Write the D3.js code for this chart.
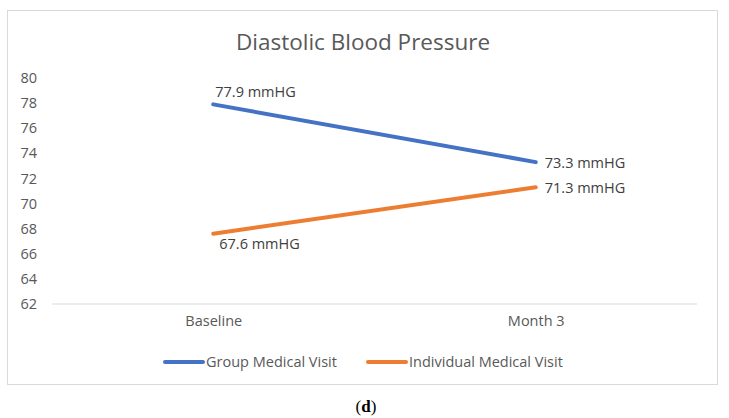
<!DOCTYPE html>
<html><head><meta charset="utf-8">
<script src="https://cdn.jsdelivr.net/npm/d3@7"></script>
<style>body{margin:0;background:#fff;}svg{display:block;}</style>
</head><body>
<svg id="c" width="729" height="418"></svg>
<script>
const categories = ["Baseline", "Month 3"];
const seriesNames = ["Group Medical Visit", "Individual Medical Visit"];
const groupValues = [77.9, 73.3];
const individualValues = [67.6, 71.3];
const seriesColors = ["#4472C4", "#ED7D31"];
const yTicks = [62, 64, 66, 68, 70, 72, 74, 76, 78, 80];
const title = "Diastolic Blood Pressure";
const caption = "d";

const svg = d3.select("#c");
const font = "'Open Sans', sans-serif";
const fs = 14.5;
svg.append("rect").attr("x", 7.5).attr("y", 10.5).attr("width", 710).attr("height", 374)
  .attr("fill", "#fff").attr("stroke", "#d9d9d9");

const x = d3.scalePoint().domain(categories).range([52, 697]).padding(0.5);
const y = d3.scaleLinear().domain([62, 80]).range([304, 78]);

svg.append("text").attr("x", 363).attr("y", 50).attr("text-anchor", "middle")
  .attr("font-family", font).attr("font-size", 22.5).attr("fill", "#595959").text(title);

const yAxis = d3.axisLeft(y).tickValues(yTicks).tickSize(0).tickPadding(0);
const ya = svg.append("g").attr("transform", "translate(37,0)").call(yAxis);
ya.select(".domain").remove();
ya.selectAll("text").attr("font-family", font).attr("font-size", fs).attr("fill", "#595959");

svg.append("line").attr("x1", 52).attr("x2", 697).attr("y1", y(62)).attr("y2", y(62))
  .attr("stroke", "#d9d9d9").attr("stroke-width", 1);

const xAxis = d3.axisBottom(x).tickSize(0).tickPadding(0);
const xa = svg.append("g").attr("transform", "translate(0,316)").call(xAxis);
xa.select(".domain").remove();
xa.selectAll("text").attr("font-family", font).attr("font-size", fs).attr("fill", "#595959");

const series = [groupValues, individualValues];
const line = d3.line().x((d, i) => x(categories[i])).y(d => y(d));
series.forEach((vals, s) => {
  svg.append("path").datum(vals).attr("d", line).attr("fill", "none")
    .attr("stroke", seriesColors[s]).attr("stroke-width", 4).attr("stroke-linecap", "round");
});

const labelOffsets = [[[2, -7], [9, 6]], [[6, 15], [9, 6]]];
series.forEach((vals, s) => {
  vals.forEach((v, i) => {
    const [dx, dy] = labelOffsets[s][i];
    svg.append("text").attr("x", x(categories[i]) + dx).attr("y", y(v) + dy)
      .attr("font-family", font).attr("font-size", fs).attr("fill", "#404040")
      .text(v.toFixed(1) + " mmHG");
  });
});

const legendX = [165, 368];
seriesNames.forEach((n, s) => {
  svg.append("line").attr("x1", legendX[s]).attr("x2", legendX[s] + 38)
    .attr("y1", 362).attr("y2", 362).attr("stroke", seriesColors[s]).attr("stroke-width", 4)
    .attr("stroke-linecap", "round");
  svg.append("text").attr("x", legendX[s] + 41).attr("y", 367)
    .attr("font-family", font).attr("font-size", fs).attr("fill", "#595959").text(n);
});

const cap = svg.append("text").attr("x", 366).attr("y", 412).attr("text-anchor", "middle")
  .attr("font-family", "'Liberation Serif', serif").attr("font-size", 17).attr("fill", "#000");
cap.append("tspan").text("(");
cap.append("tspan").attr("font-weight", "bold").text(caption);
cap.append("tspan").text(")");
</script>
</body></html>
